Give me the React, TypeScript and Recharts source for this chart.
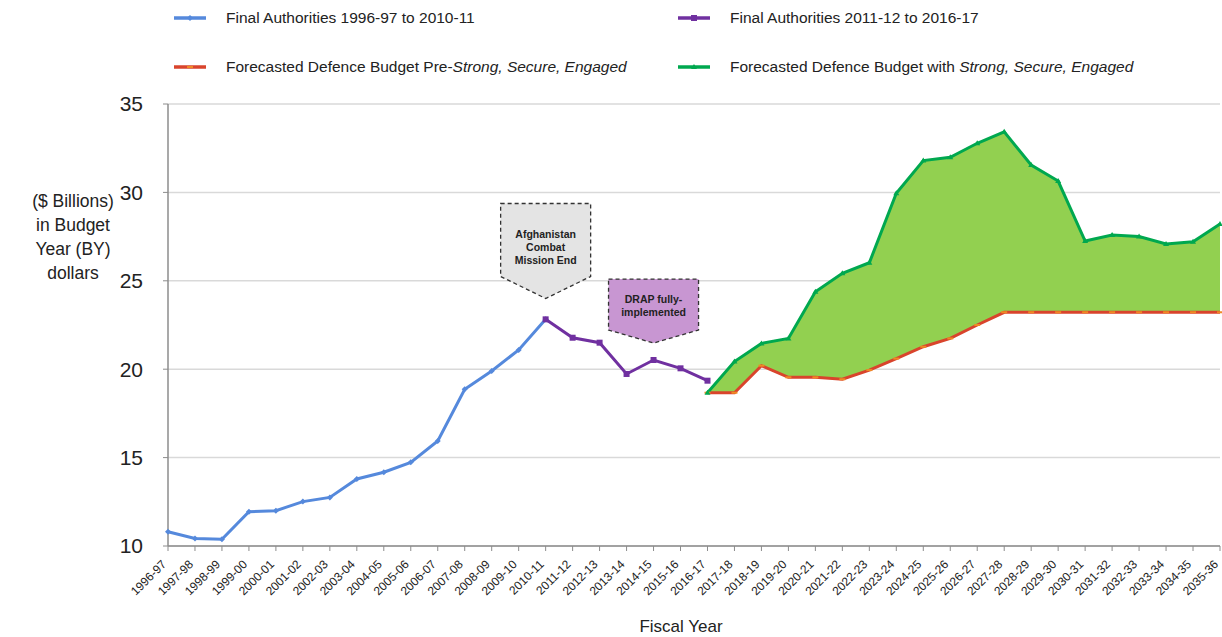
import { ComposedChart, Line, Area, XAxis, YAxis, CartesianGrid, ReferenceDot } from 'recharts';

const years = [
  '1996-97', '1997-98', '1998-99', '1999-00', '2000-01', '2001-02', '2002-03', '2003-04', '2004-05', '2005-06',
  '2006-07', '2007-08', '2008-09', '2009-10', '2010-11', '2011-12', '2012-13', '2013-14', '2014-15', '2015-16',
  '2016-17', '2017-18', '2018-19', '2019-20', '2020-21', '2021-22', '2022-23', '2023-24', '2024-25', '2025-26',
  '2026-27', '2027-28', '2028-29', '2029-30', '2030-31', '2031-32', '2032-33', '2033-34', '2034-35', '2035-36',
];

// 1996-97 .. 2010-11
const authoritiesEarly = [10.81, 10.43, 10.38, 11.94, 12.0, 12.51, 12.75, 13.79, 14.17, 14.73, 15.94, 18.86, 19.9, 21.09, 22.82];
// 2010-11 .. 2016-17
const authoritiesLate = [22.82, 21.78, 21.5, 19.73, 20.52, 20.05, 19.35];
// 2016-17 .. 2035-36
const forecastPre = [18.67, 18.67, 20.2, 19.54, 19.54, 19.43, 19.95, 20.6, 21.27, 21.74, 22.5, 23.22, 23.22, 23.22, 23.22, 23.22, 23.22, 23.22, 23.22, 23.22];
const forecastSSE = [18.67, 20.43, 21.46, 21.74, 24.38, 25.42, 26.02, 29.95, 31.8, 31.99, 32.78, 33.43, 31.55, 30.64, 27.25, 27.59, 27.5, 27.08, 27.21, 28.21];

const yTicks = [10, 15, 20, 25, 30, 35];

const LATE_START = 14;
const FORECAST_START = 20;

const C = {
  blue: '#5589dc',
  purple: '#7030a0',
  green: '#00a84f',
  fill: '#92d050',
  red: '#d9442c',
  orange: '#f08a24',
  axis: '#8c8c8c',
  grid: '#d9d9d9',
  text: '#222',
};

const FONT = '"Liberation Sans", Arial, sans-serif';

const data = years.map((year, i) => {
  const f = i - FORECAST_START;
  const pre = f >= 0 ? forecastPre[f] : null;
  const sse = f >= 0 ? forecastSSE[f] : null;
  return {
    year,
    early: i < authoritiesEarly.length ? authoritiesEarly[i] : null,
    late: i >= LATE_START && i - LATE_START < authoritiesLate.length ? authoritiesLate[i - LATE_START] : null,
    pre,
    sse,
    band: pre != null && sse != null ? [pre, sse] : null,
  };
});

const Diamond = ({ cx, cy }: any) =>
  cx == null || cy == null ? null : (
    <polygon points={`${cx},${cy - 3} ${cx + 3},${cy} ${cx},${cy + 3} ${cx - 3},${cy}`} fill={C.blue} />
  );
const Square = ({ cx, cy }: any) =>
  cx == null || cy == null ? null : <rect x={cx - 3} y={cy - 3} width={6} height={6} fill={C.purple} />;
const Tri = ({ cx, cy }: any) =>
  cx == null || cy == null ? null : (
    <polygon points={`${cx},${cy - 3} ${cx + 3},${cy + 2} ${cx - 3},${cy + 2}`} fill={C.green} />
  );
const Dash = ({ cx, cy }: any) =>
  cx == null || cy == null ? null : <rect x={cx - 3} y={cy - 1} width={6} height={2} fill={C.orange} />;

const XTick = ({ x, y, payload }: any) => (
  <text
    transform={`translate(${x - 4},${y + 9}) rotate(-45)`}
    textAnchor="end"
    dy="0.35em"
    fontSize={12}
    fontFamily={FONT}
    fill={C.text}
  >
    {payload.value}
  </text>
);

const Callout = ({ cx, cy, lines, fill, top, shoulder, textY }: any) => {
  if (cx == null || cy == null) return null;
  const w = 45;
  const pts = `${cx - w},${cy - top} ${cx + w},${cy - top} ${cx + w},${cy - shoulder} ${cx},${cy} ${cx - w},${cy - shoulder}`;
  const textTop = cy - textY - ((lines.length - 1) * 13) / 2;
  return (
    <g>
      <polygon points={pts} fill={fill} stroke="#333" strokeWidth={1.3} strokeDasharray="4 3" />
      {lines.map((l: string, i: number) => (
        <text key={i} x={cx} y={textTop + i * 13} dy="0.35em" textAnchor="middle" fontSize={10.5} fontWeight="bold" fontFamily={FONT} fill="#222">
          {l}
        </text>
      ))}
    </g>
  );
};

const LegendItem = ({ color, left, top, children, marker }: any) => (
  <div style={{ position: 'absolute', left, top, display: 'flex', alignItems: 'center', fontSize: 15.5, fontFamily: FONT, color: C.text, whiteSpace: 'nowrap' }}>
    <svg width={32} height={10} style={{ marginRight: 20 }}>
      <line x1={0} y1={5} x2={32} y2={5} stroke={color} strokeWidth={3.5} />
      {marker}
    </svg>
    <span>{children}</span>
  </div>
);

export default function App() {
  return (
    <div style={{ position: 'relative', width: 1222, height: 637, background: '#fff', fontFamily: FONT }}>
      <style>{`body{margin:0}`}</style>
      <LegendItem color={C.blue} left={174} top={9} marker={<polygon points="16,2 19,5 16,8 13,5" fill={C.blue} />}>
        Final Authorities 1996-97 to 2010-11
      </LegendItem>
      <LegendItem color={C.purple} left={678} top={9} marker={<rect x={13} y={2} width={6} height={6} fill={C.purple} />}>
        Final Authorities 2011-12 to 2016-17
      </LegendItem>
      <LegendItem color={C.red} left={174} top={58} marker={<rect x={13} y={4} width={6} height={2} fill={C.orange} />}>
        Forecasted Defence Budget Pre-<i>Strong, Secure, Engaged</i>
      </LegendItem>
      <LegendItem color={C.green} left={678} top={58} marker={<polygon points="16,2 19,7 13,7" fill={C.green} />}>
        Forecasted Defence Budget with <i>Strong, Secure, Engaged</i>
      </LegendItem>

      <div style={{ position: 'absolute', left: 8, top: 189, width: 130, textAlign: 'center', fontSize: 17.5, lineHeight: '24px', color: C.text }}>
        ($ Billions)
        <br />
        in Budget
        <br />
        Year (BY)
        <br />
        dollars
      </div>
      <div style={{ position: 'absolute', left: 601, top: 617, width: 160, textAlign: 'center', fontSize: 17, color: C.text }}>
        Fiscal Year
      </div>

      <ComposedChart width={1222} height={637} data={data} margin={{ top: 104, right: 2, bottom: 0, left: 0 }}>
        <CartesianGrid vertical={false} stroke={C.grid} strokeWidth={1.5} />
        <XAxis
          dataKey="year"
          scale="point"
          padding={{ left: 0, right: 0 }}
          height={91}
          interval={0}
          tick={<XTick />}
          tickSize={5}
          axisLine={{ stroke: C.axis, strokeWidth: 1.5 }}
          tickLine={{ stroke: C.axis }}
        />
        <YAxis
          domain={[10, 35]}
          ticks={yTicks}
          width={168}
          tickSize={5}
          tickMargin={20}
          tick={{ fontSize: 21, fill: C.text, fontFamily: FONT }}
          axisLine={{ stroke: C.axis, strokeWidth: 1.5 }}
          tickLine={{ stroke: C.axis }}
        />
        <Area dataKey="band" fill={C.fill} fillOpacity={1} stroke="none" isAnimationActive={false} />
        <Line dataKey="early" stroke={C.blue} strokeWidth={3} dot={<Diamond />} activeDot={false} isAnimationActive={false} />
        <Line dataKey="late" stroke={C.purple} strokeWidth={3} dot={<Square />} activeDot={false} isAnimationActive={false} />
        <Line dataKey="pre" stroke={C.red} strokeWidth={3} dot={<Dash />} activeDot={false} isAnimationActive={false} />
        <Line dataKey="sse" stroke={C.green} strokeWidth={3} dot={<Tri />} activeDot={false} isAnimationActive={false} />
        <ReferenceDot
          x="2010-11"
          y={24}
          ifOverflow="visible"
          shape={(p: any) => (
            <Callout {...p} lines={['Afghanistan', 'Combat', 'Mission End']} fill="#e4e4e4" top={95} shoulder={22} textY={51} />
          )}
        />
        <ReferenceDot
          x="2014-15"
          y={21.48}
          ifOverflow="visible"
          shape={(p: any) => <Callout {...p} lines={['DRAP fully-', 'implemented']} fill="#c896d2" top={64} shoulder={13} textY={37} />}
        />
      </ComposedChart>
    </div>
  );
}
